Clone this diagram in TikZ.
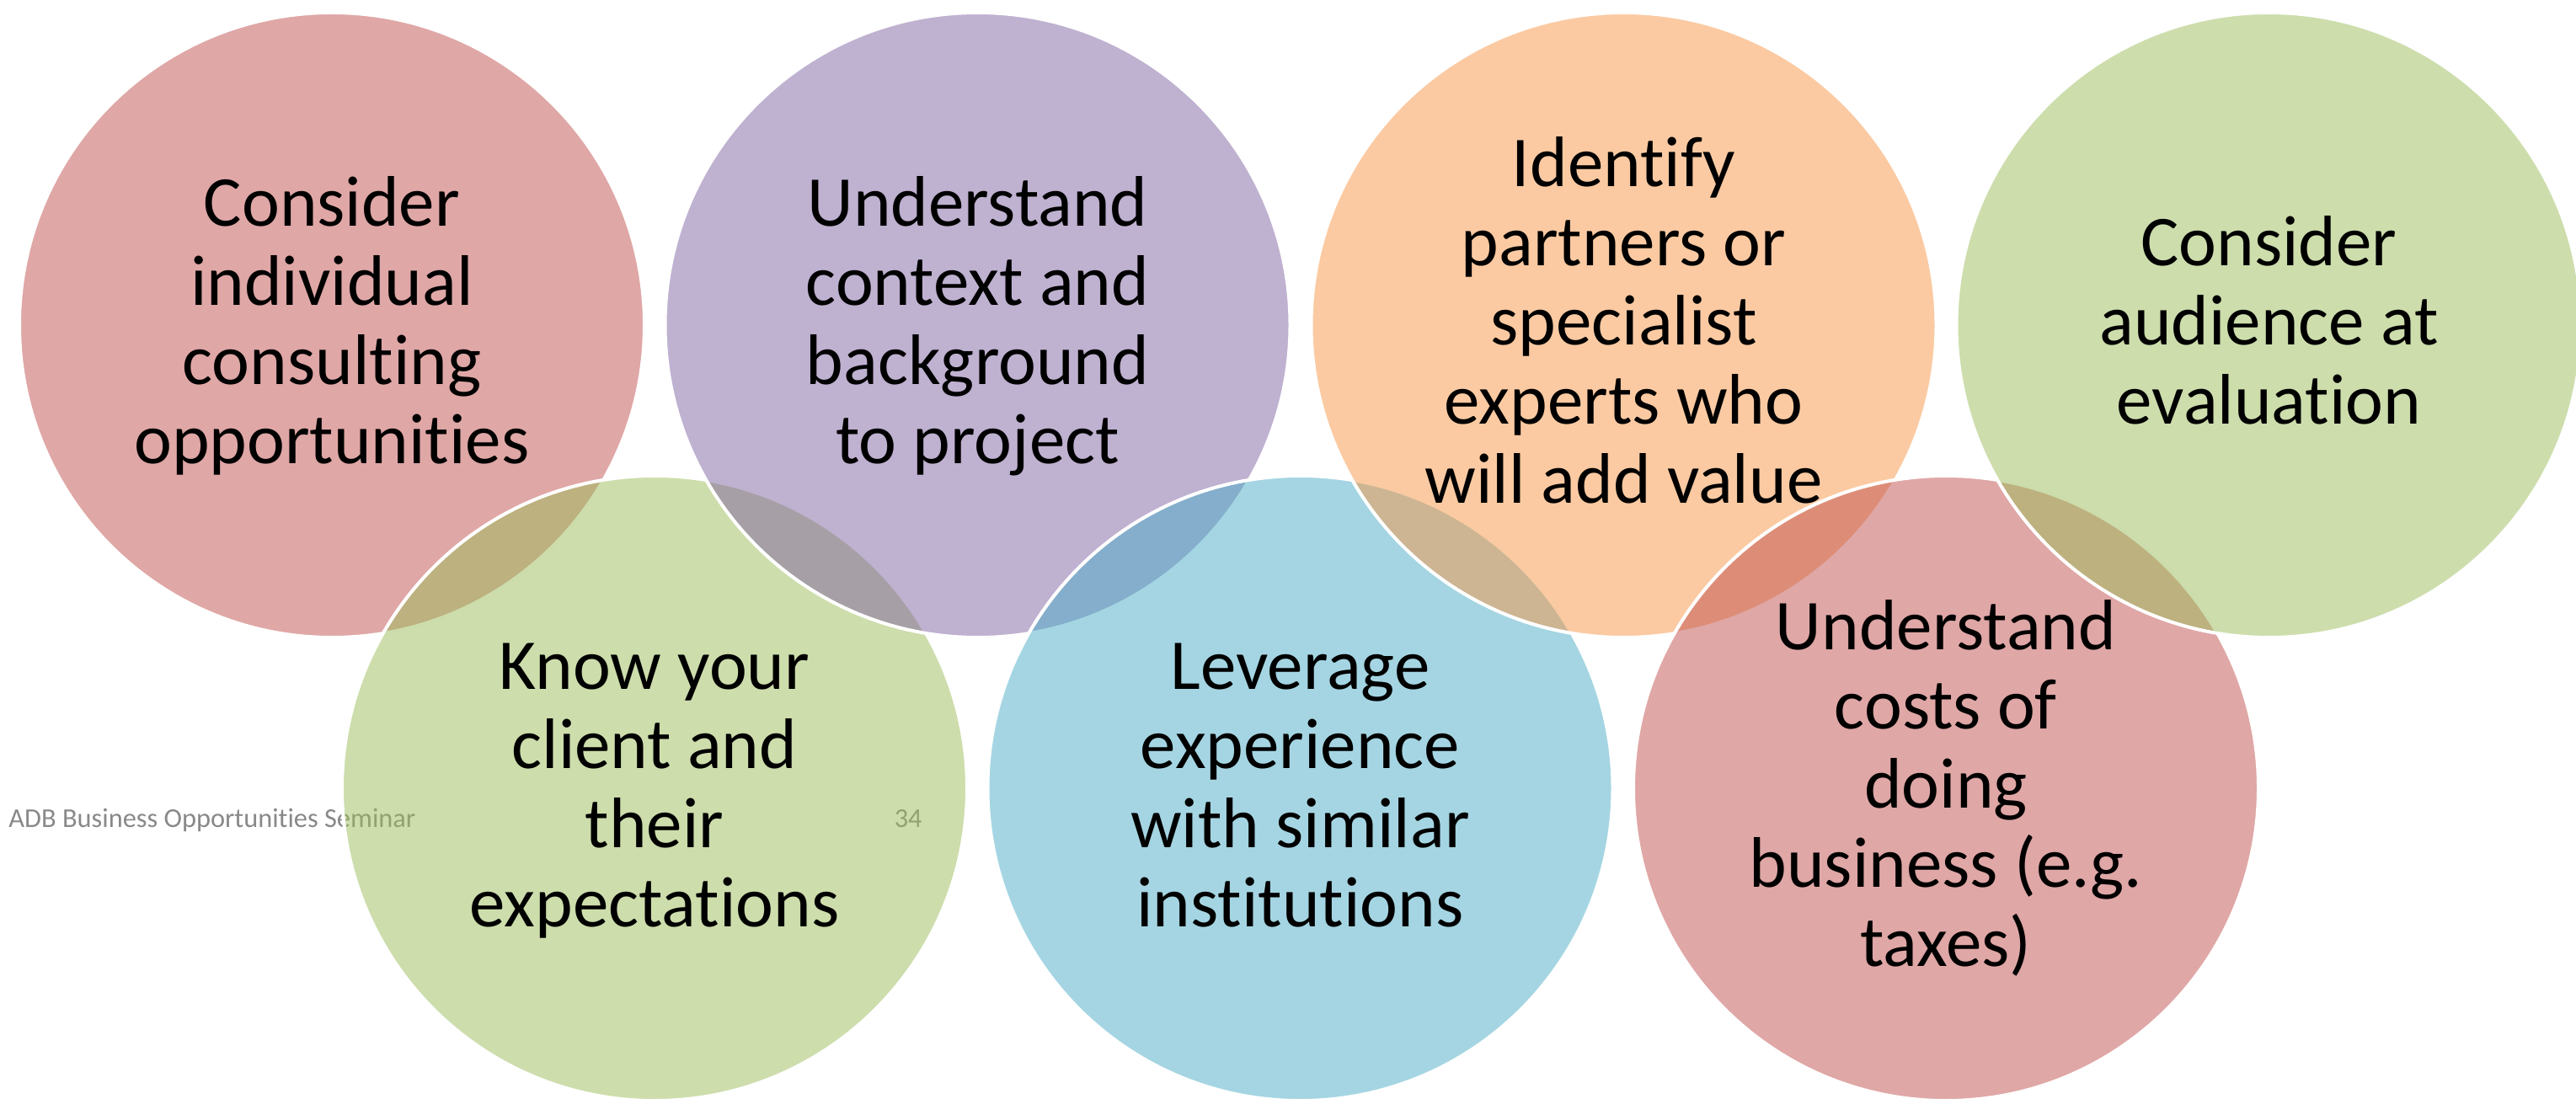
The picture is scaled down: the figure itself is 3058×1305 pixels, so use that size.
\documentclass[tikz,border=0pt]{standalone}
\usepackage{fontspec}
\setmainfont{Carlito}[Ligatures={NoCommon}]
\definecolor{cpink}{HTML}{C0504D}
\definecolor{clav}{HTML}{8064A2}
\definecolor{corange}{HTML}{F79646}
\definecolor{cgreen}{HTML}{9BBB59}
\definecolor{cblue}{HTML}{4BACC6}
\definecolor{footgray}{HTML}{898989}
\newcommand{\capTop}{\rule{0pt}{36pt}}
\newcommand{\capBot}{\rule[-13pt]{0pt}{13pt}}
\begin{document}
\begin{tikzpicture}[x=0.5pt,y=-0.5pt,
  bubble/.style={circle, minimum size=371pt, inner sep=0pt, outer sep=0pt,
    draw=white, line width=2pt, fill=#1, fill opacity=0.5},
  caption/.style={align=center, text=black, inner sep=0pt, anchor=center,
    font=\fontsize{42.5pt}{47pt}\selectfont},
  footer/.style={text=footgray, inner sep=0pt,
    font=\fontsize{16.2pt}{19pt}\selectfont}]
\useasboundingbox (0,0) rectangle (3058,1305);
\clip (0,0) rectangle (3058,1305);
% footer (under the circles)
\node[footer, anchor=base west] (foot) at (10,982) {ADB Business Opportunities Seminar};
\node[footer, anchor=base east] (page) at (1095,982) {34};
% circles, zigzag order
\node[bubble=cpink]   (c1) at (394,386) {};
\node[bubble=cgreen]  (c5) at (777,936) {};
\node[bubble=clav]    (c2) at (1160.5,386) {};
\node[bubble=cblue]   (c6) at (1543.5,936) {};
\node[bubble=corange] (c3) at (1927.5,386) {};
\node[bubble=cpink]   (c7) at (2310,936) {};
\node[bubble=cgreen]  (c4) at (2693.5,386) {};
% texts
\node[caption] (t1) at (c1) {\capTop Consider\\individual\\consulting\\opportunities\capBot};
\node[caption] (t2) at (c2) {\capTop Understand\\context and\\background\\to project\capBot};
\node[caption] (t3) at (c3) {\capTop Identify\\partners or\\specialist\\experts who\\will add value\capBot};
\node[caption] (t4) at (c4) {\capTop Consider\\audience at\\evaluation\capBot};
\node[caption] (t5) at (c5) {\capTop Know your\\client and\\their\\expectations\capBot};
\node[caption] (t6) at (c6) {\capTop Leverage\\experience\\with similar\\institutions\capBot};
\node[caption] (t7) at (c7) {\capTop Understand\\costs of\\doing\\business (e.g.\\taxes)\capBot};
\end{tikzpicture}
\end{document}
